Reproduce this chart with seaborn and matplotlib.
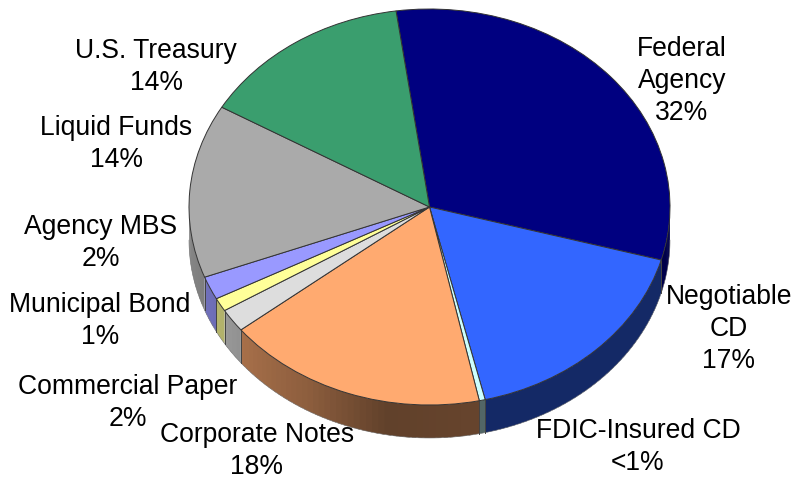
import numpy as np
import matplotlib
matplotlib.use("Agg")
import matplotlib.pyplot as plt
import seaborn as sns

# Portfolio composition in percent, clockwise from Federal Agency
sectors = ["Federal\nAgency", "Negotiable\nCD", "FDIC-Insured CD", "Corporate Notes",
           "Commercial Paper", "Municipal Bond", "Agency MBS", "Liquid Funds", "U.S. Treasury"]
shares = [31.6, 17.0, 0.4, 17.7, 1.9, 1.1, 1.9, 14.2, 14.4]
share_text = ["32%", "17%", "<1%", "18%", "2%", "1%", "2%", "14%", "14%"]
sector_colors = ["#000080", "#3366ff", "#ccffff", "#ffaa70", "#dddddd",
                 "#ffff99", "#9999ff", "#aaaaaa", "#3a9e6e"]

# Label anchors in figure pixels (centre of the text block, measured from top left)
label_px = [(682, 81), (729, 329), (638, 447), (257, 451), (128, 403),
            (100, 321), (101, 243), (116, 144), (156, 67)]

W, H = 796, 479
CX, CY, RX, RY, DEPTH = 429.5, 207.0, 240.5, 198.0, 33.0
START = 98.0

sns.set_theme(style="white")
plt.rcParams["font.family"] = ["Liberation Sans", "DejaVu Sans"]
palette = sns.color_palette(sector_colors)

fig = plt.figure(figsize=(W / 100, H / 100), dpi=100)
ax = fig.add_axes([0, 0, 1, 1])

# Side wall of the disc: thin strips shaded according to where they face
fractions = np.array(shares) / np.sum(shares)
edges = START - 360 * np.concatenate([[0], np.cumsum(fractions)])
depth = DEPTH / RY
shade_angle = [-180, -150, -120, -100, -80, 0]
shade_value = [0.82, 0.70, 0.55, 0.38, 0.40, 0.40]


def rim(theta_deg):
    t = np.radians(theta_deg)
    return np.cos(t), np.sin(t)


ax.set_xlim(-CX / RX, (W - CX) / RX)
ax.set_ylim((CY - H) / RY, CY / RY)

for i, color in enumerate(palette):
    hi, lo = edges[i], edges[i + 1]
    # Only the front half of the rim is visible
    a, b = min(hi, 0), max(lo, -180)
    if a <= b:
        continue
    steps = max(int((a - b) / 1.5), 1)
    ticks = np.linspace(a, b, steps + 1)
    for t0, t1 in zip(ticks[:-1], ticks[1:]):
        k = 0.58 if i == 0 else np.interp((t0 + t1) / 2, shade_angle, shade_value)
        strip_color = tuple(np.array(color) * k)
        # Each strip runs slightly under its neighbour so no seams appear
        arc = np.linspace(t0, max(t1 - 1.0, b), 4)
        x, y = rim(arc)
        ax.fill(np.r_[x, x[::-1]], np.r_[y, y[::-1] - depth],
                facecolor=strip_color, edgecolor="none", lw=0, zorder=1)
    # Outline of this wall section
    arc = np.linspace(a, b, 60)
    x, y = rim(arc)
    ax.plot(x, y - depth, color="#777777", lw=0.4, zorder=2)
    for end in (a, b):
        if -180 < end < 0:
            ex, ey = rim(end)
            ax.plot([ex, ex], [ey, ey - depth], color="#444444", lw=0.7, zorder=2)

# Top face of the disc
wedges, _ = ax.pie(shares, colors=palette, startangle=START, counterclock=False,
                   radius=1.0, center=(0, 0),
                   wedgeprops=dict(edgecolor="#333333", linewidth=0.7, zorder=3))
ax.set_aspect("auto")
ax.set_xlim(-CX / RX, (W - CX) / RX)
ax.set_ylim((CY - H) / RY, CY / RY)
ax.axis("off")

# Sector names with their shares
for name, pct, (px, py) in zip(sectors, share_text, label_px):
    fig.text(px / W, 1 - py / H, f"{name}\n{pct}", ha="center", va="center",
             fontsize=19.1, color="black", linespacing=1.31)

fig.savefig("out.png", dpi=100, facecolor="white")
